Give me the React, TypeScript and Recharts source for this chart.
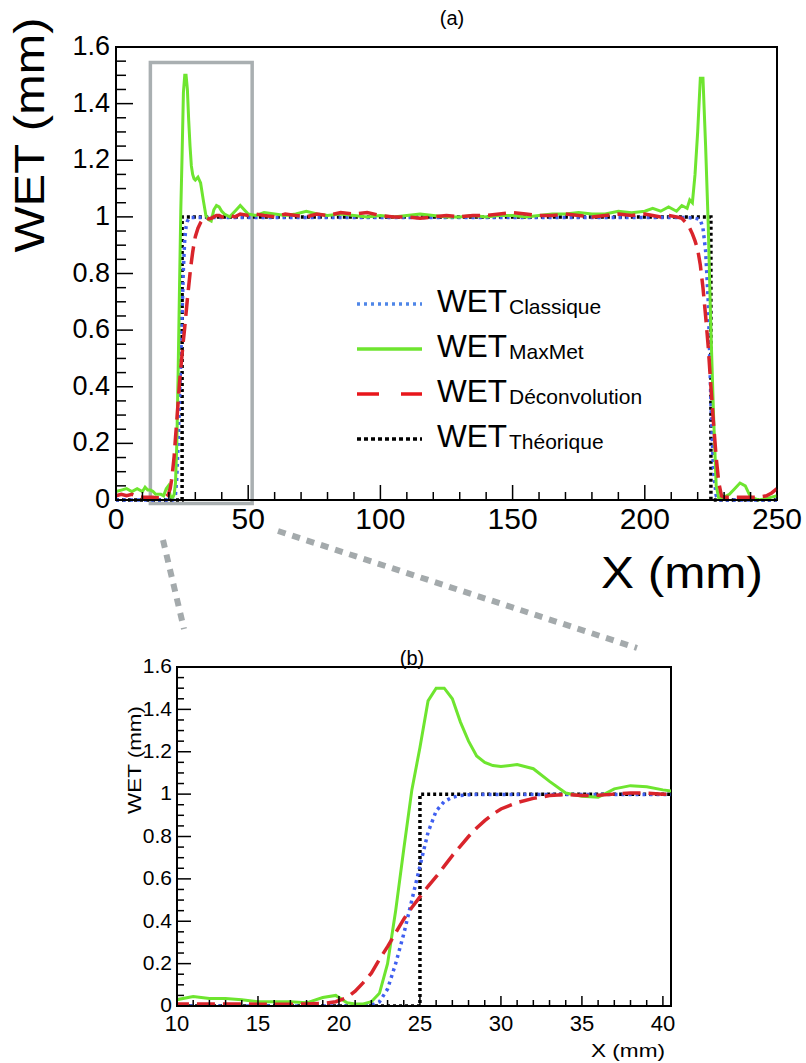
import { LineChart, Line, XAxis, YAxis, ReferenceArea, Legend } from "recharts";

// X positions (mm), denser around the two edges of the profile
const xMm = [
  0, 2, 4, 6, 8, 10, 11, 12, 13, 14,
  15, 16, 17, 18, 19, 19.8, 20.5, 21, 21.5, 22,
  22.5, 23, 23.5, 24, 24.5, 25, 25.5, 26, 26.5, 27,
  27.5, 28, 28.5, 29, 29.5, 30, 31, 32, 33, 34,
  35, 36, 37, 38, 39, 40, 41, 43, 45, 47,
  50, 53, 56, 60, 64, 68, 72, 76, 80, 85,
  90, 95, 100, 105, 110, 115, 120, 125, 130, 135,
  140, 145, 150, 155, 160, 165, 170, 175, 180, 185,
  190, 195, 200, 203, 206, 209, 212, 214, 216, 217,
  218, 219, 220, 221, 222, 223, 224, 225, 226, 227,
  228, 229, 230, 232, 234, 236, 238, 240, 243, 246,
  248, 250,
];

const wetClassique = [
  0, 0, 0, 0, 0, 0, 0, 0, 0, 0,
  0, 0, 0, 0, 0, 0, 0, 0, 0, 0.003,
  0.02, 0.08, 0.2, 0.34, 0.5, 0.66, 0.82, 0.92, 0.965, 0.985,
  0.993, 0.997, 0.998, 0.998, 0.998, 0.998, 0.998, 0.998, 0.998, 0.998,
  0.998, 0.998, 0.998, 0.998, 0.998, 0.998, 0.998, 0.998, 0.998, 0.998,
  0.998, 0.998, 0.998, 0.998, 0.998, 0.998, 0.998, 0.998, 0.998, 0.998,
  0.998, 0.998, 0.998, 0.998, 0.998, 0.998, 0.998, 0.998, 0.998, 0.998,
  0.998, 0.998, 0.998, 0.998, 0.998, 0.998, 0.998, 0.998, 0.998, 0.998,
  0.998, 0.998, 0.998, 0.998, 0.998, 0.998, 0.998, 0.998, 0.998, 0.997,
  0.996, 0.995, 0.993, 0.99, 0.96, 0.88, 0.7, 0.35, 0.1, 0.015,
  0, 0, 0, 0, 0, 0, 0, 0, 0, 0,
  0, 0,
];

const wetMaxMet = [
  0.03, 0.035, 0.04, 0.03, 0.04, 0.03, 0.045, 0.035, 0.035, 0.03,
  0.02, 0.02, 0.02, 0.015, 0.04, 0.05, 0.015, 0.01, 0.01, 0.02,
  0.06, 0.2, 0.45, 0.74, 1.02, 1.22, 1.44, 1.5, 1.5, 1.45,
  1.34, 1.25, 1.18, 1.15, 1.135, 1.13, 1.14, 1.12, 1.06, 1.005,
  0.99, 0.985, 1.025, 1.04, 1.035, 1.02, 1.01, 1.0, 1.02, 1.04,
  1.01, 1.005, 1.015, 1.01, 1.005, 1.01, 1.02, 1.01, 1.005, 1.01,
  1.005, 1.0, 1.005, 1.0, 1.005, 1.01, 1.005, 1.0, 1.0, 1.005,
  1.0, 1.005, 1.005, 1.0, 1.005, 1.01, 1.01, 1.015, 1.01, 1.01,
  1.02, 1.015, 1.02, 1.03, 1.02, 1.035, 1.02, 1.04, 1.03, 1.06,
  1.05, 1.15, 1.3, 1.49, 1.49, 1.25, 0.97, 0.6, 0.3, 0.05,
  0.005, 0.005, 0.01, 0.02, 0.04, 0.06, 0.05, 0.01, 0, 0.005,
  0.01, 0.015,
];

const wetDeconvolution = [
  0.015, 0.02, 0.015, 0.02, 0.012, 0.01, 0.01, 0.01, 0.01, 0.01,
  0.008, 0.008, 0.008, 0.01, 0.012, 0.02, 0.04, 0.07, 0.11, 0.155,
  0.22, 0.28, 0.345, 0.41, 0.465, 0.515, 0.565, 0.61, 0.66, 0.71,
  0.755, 0.8, 0.84, 0.875, 0.905, 0.93, 0.96, 0.98, 0.993, 0.998,
  0.993, 0.995, 1.0, 1.005, 1.005, 1.0, 1.0, 1.005, 1.0, 1.01,
  1.005, 1.01, 1.005, 1.0, 1.01, 1.005, 1.0, 1.01, 1.005, 1.015,
  1.01, 1.015, 1.005, 1.0, 1.0, 0.995, 1.0, 1.005, 1.0, 1.005,
  1.005, 1.01, 1.015, 1.01, 1.005, 1.005, 1.01, 1.005, 1.0, 1.005,
  1.01, 1.005, 1.01, 1.005, 1.0, 1.005, 1.0, 0.995, 0.975, 0.96,
  0.94, 0.915, 0.885, 0.83, 0.75, 0.65, 0.54, 0.4, 0.27, 0.15,
  0.06, 0.015, 0.01, 0.01, 0.01, 0.01, 0.01, 0.01, 0.01, 0.015,
  0.025, 0.04,
];

// theoretical step profile
const theoX = [0, 25, 25, 225, 225, 250];
const theoY = [0, 0, 1, 1, 0, 0];

// tick labels
const xLabelsA = [0, 50, 100, 150, 200, 250];
const xLabelsB = [10, 15, 20, 25, 30, 35, 40];
const yLabels = [0, 0.2, 0.4, 0.6, 0.8, 1, 1.2, 1.4, 1.6];

const rows = xMm.map((x, i) => ({
  x,
  classique: wetClassique[i],
  maxmet: wetMaxMet[i],
  deconv: wetDeconvolution[i],
}));
const theoRows = theoX.map((x, i) => ({ x, theo: theoY[i] }));

const steps = (from: number, to: number, step: number) => {
  const out: number[] = [];
  for (let v = from; v <= to + 1e-9; v += step) out.push(Math.round(v * 1000) / 1000);
  return out;
};
const xTicksA = steps(0, 250, 10);
const xTicksB = steps(10, 40, 1);
const yTicks = steps(0, 1.6, 0.05);

const series = [
  { key: "classique", sub: "Classique", color: "#3f5ff0", width: 3.5, dash: "3 4", legendColor: "#4f86e8", legendDash: "3 4" },
  { key: "maxmet", sub: "MaxMet", color: "#6ee52f", width: 3, dash: undefined, legendColor: "#6ee52f", legendDash: undefined },
  { key: "deconv", sub: "Déconvolution", color: "#d9242b", width: 3.5, dash: "18 8", legendColor: "#e8161b", legendDash: "22 22" },
  { key: "theo", sub: "Théorique", color: "#000000", width: 3.5, dash: "3 3", legendColor: "#000000", legendDash: "4 3" },
];

const isIn = (list: number[], v: number) => list.some(t => Math.abs(t - v) < 1e-6);

const makeXTick = (labels: number[], major: number, minor: number, fontSize: number, gap: number) =>
  (props: any) => {
    const { x, y, payload } = props;
    const big = isIn(labels, payload.value);
    return (
      <g>
        <line x1={x} y1={y} x2={x} y2={y - (big ? major : minor)} stroke="#000" strokeWidth={1.5} />
        {big && (
          <text x={x} y={y + gap} textAnchor="middle" fontSize={fontSize} fill="#000">
            {payload.value}
          </text>
        )}
      </g>
    );
  };

const makeYTick = (labels: number[], major: number, minor: number, fontSize: number, gap: number) =>
  (props: any) => {
    const { x, y, payload } = props;
    const big = isIn(labels, payload.value);
    return (
      <g>
        <line x1={x} y1={y} x2={x + (big ? major : minor)} y2={y} stroke="#000" strokeWidth={1.5} />
        {big && (
          <text x={x - gap} y={y} dy="0.3em" textAnchor="end" fontSize={fontSize} fill="#000">
            {payload.value}
          </text>
        )}
      </g>
    );
  };

const LegendBox = () => (
  <svg width={330} height={190}>
    {series.map((s, i) => {
      const base = 32 + i * 45;
      return (
        <g key={s.key}>
          <line x1={7} x2={72} y1={base - 8} y2={base - 8} stroke={s.legendColor} strokeWidth={3.5} strokeDasharray={s.legendDash} />
          <text x={87} y={base} fontSize={32} textLength={70} lengthAdjust="spacingAndGlyphs">WET</text>
          <text x={159} y={base + 2} fontSize={21}>{s.sub}</text>
        </g>
      );
    })}
  </svg>
);

const renderLines = () => [
  <Line key="theo" data={theoRows} dataKey="theo" type="linear" stroke="#000" strokeWidth={3.5} strokeDasharray="3 3" dot={false} isAnimationActive={false} />,
  ...series.filter(s => s.key !== "theo").map(s => (
    <Line key={s.key} dataKey={s.key} type="linear" stroke={s.color} strokeWidth={s.width} strokeDasharray={s.dash} dot={false} isAnimationActive={false} />
  )),
];

export default function App() {
  return (
    <div style={{ position: "absolute", left: 0, top: 0, width: 806, height: 1063, background: "#fff", fontFamily: "'Liberation Sans', Arial, sans-serif" }}>
      {/* (a) full profile */}
      <div style={{ position: "absolute", left: 0, top: 0 }}>
        <LineChart width={806} height={545} data={rows} margin={{ top: 47, right: 29, left: 56, bottom: 5 }}>
          <ReferenceArea x1={0} x2={250} y1={0} y2={1.6} fill="none" stroke="#000" strokeWidth={2} />
          <ReferenceArea x1={13} x2={51.5} y1={-0.012} y2={1.545} ifOverflow="visible" fill="none" stroke="#a9afb1" strokeWidth={3.5} />
          <XAxis type="number" dataKey="x" domain={[0, 250]} ticks={xTicksA} interval={0} height={40}
            tickSize={0} tickMargin={0} tickLine={false} axisLine={{ stroke: "#000", strokeWidth: 2 }}
            tick={makeXTick(xLabelsA, 15, 8, 30, 29)} />
          <YAxis type="number" domain={[0, 1.6]} ticks={yTicks} interval={0} width={60}
            tickSize={0} tickMargin={0} tickLine={false} axisLine={{ stroke: "#000", strokeWidth: 2 }}
            tick={makeYTick(yLabels, 17, 10, 27, 6)} />
          {renderLines()}
          <Legend layout="vertical" align="center" verticalAlign="middle" content={() => <LegendBox />}
            wrapperStyle={{ left: 350, top: 280, width: 330, height: 190 }} />
        </LineChart>
      </div>

      {/* (b) zoom on the left edge */}
      <div style={{ position: "absolute", left: 0, top: 600 }}>
        <LineChart width={806} height={450} data={rows} margin={{ top: 67, right: 135, left: 117, bottom: 4 }}>
          <ReferenceArea x1={10} x2={40.5} y1={0} y2={1.6} fill="none" stroke="#000" strokeWidth={2} />
          <XAxis type="number" dataKey="x" domain={[10, 40.5]} allowDataOverflow ticks={xTicksB} interval={0} height={40}
            tickSize={0} tickMargin={0} tickLine={false} axisLine={{ stroke: "#000", strokeWidth: 2 }}
            tick={makeXTick(xLabelsB, 10, 6, 22, 25)} />
          <YAxis type="number" domain={[0, 1.6]} allowDataOverflow ticks={yTicks} interval={0} width={60}
            tickSize={0} tickMargin={0} tickLine={false} axisLine={{ stroke: "#000", strokeWidth: 2 }}
            tick={makeYTick(yLabels, 14, 7, 21, 5)} />
          {renderLines()}
        </LineChart>
      </div>

      {/* titles, axis names and zoom connectors */}
      <svg width={806} height={1063} style={{ position: "absolute", left: 0, top: 0, pointerEvents: "none" }}>
        <text x={452} y={25} textAnchor="middle" fontSize={20}>(a)</text>
        <text transform="translate(44,135) rotate(-90)" textAnchor="middle" fontSize={42} textLength={235} lengthAdjust="spacingAndGlyphs">WET (mm)</text>
        <text x={682} y={588} textAnchor="middle" fontSize={44} textLength={162} lengthAdjust="spacingAndGlyphs">X (mm)</text>
        <line x1={163} y1={540} x2={184} y2={629} stroke="#a4aaac" strokeWidth={6} strokeDasharray="8 7" />
        <line x1={278} y1={531} x2={637} y2={648} stroke="#a4aaac" strokeWidth={6} strokeDasharray="8 7" />
        <text x={412} y={665} textAnchor="middle" fontSize={20}>(b)</text>
        <text transform="translate(141,760) rotate(-90)" textAnchor="middle" fontSize={18} textLength={108} lengthAdjust="spacingAndGlyphs">WET (mm)</text>
        <text x={628} y={1057} textAnchor="middle" fontSize={19} textLength={74} lengthAdjust="spacingAndGlyphs">X (mm)</text>
      </svg>
    </div>
  );
}
